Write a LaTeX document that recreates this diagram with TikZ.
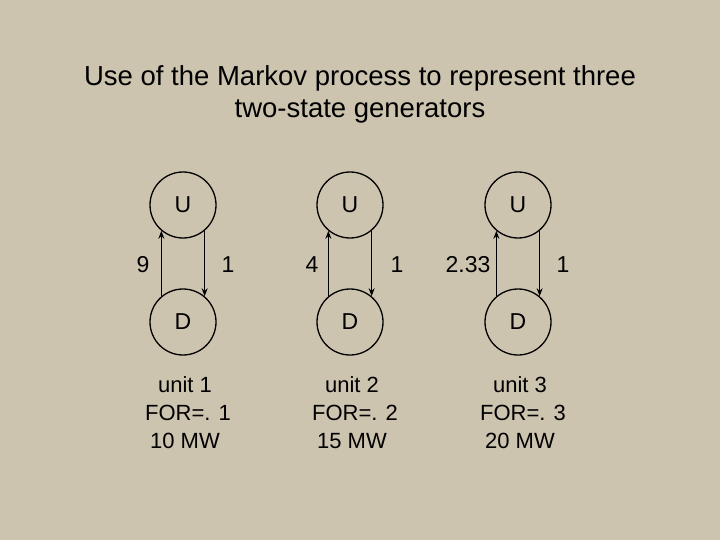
\documentclass[tikz,border=0pt]{standalone}
\usepackage{fontspec}
\setmainfont{Liberation Sans}
\usetikzlibrary{arrows.meta}
\definecolor{bg}{RGB}{205,196,176}
\begin{document}
\begin{tikzpicture}[x=1pt,y=-1pt,
  st/.style={circle,draw,line width=1.3pt,minimum size=66pt,inner sep=0pt,font=\fontsize{23}{28}\selectfont},
  lbl/.style={font=\fontsize{23}{28}\selectfont},
  info/.style={font=\fontsize{22}{28}\selectfont,align=center},
  arr/.style={line width=1.3pt,-{Stealth[length=8pt,width=6pt]}}]
\fill[bg] (0,0) rectangle (720,540);
\useasboundingbox (0,0) rectangle (720,540);
\node[font=\fontsize{27.5}{32}\selectfont,align=center] (title) at (360,94) {Use of the Markov process to represent three\\two-state generators};
\foreach \i/\x/\a/\ax/\bx/\t in {1/183/9/143/228/{unit 1\\\ FOR=. 1\\10 MW},2/350/4/312/397/{unit 2\\\ FOR=. 2\\15 MW},3/518/2.33/468/563/{unit 3\\\ FOR=. 3\\20 MW}}{
  \node[st] (u\i) at (\x,205) {U};
  \node[st] (d\i) at (\x,322) {D};
  \draw[arr] (d\i.130) -- (u\i.230);
  \draw[arr] (u\i.310) -- (d\i.50);
  \node[lbl] (a\i) at (\ax,265) {\a};
  \node[lbl] (b\i) at (\bx,265) {1};
  \node[info] (t\i) at (\x+2,413) {\t};
}
\end{tikzpicture}
\end{document}
